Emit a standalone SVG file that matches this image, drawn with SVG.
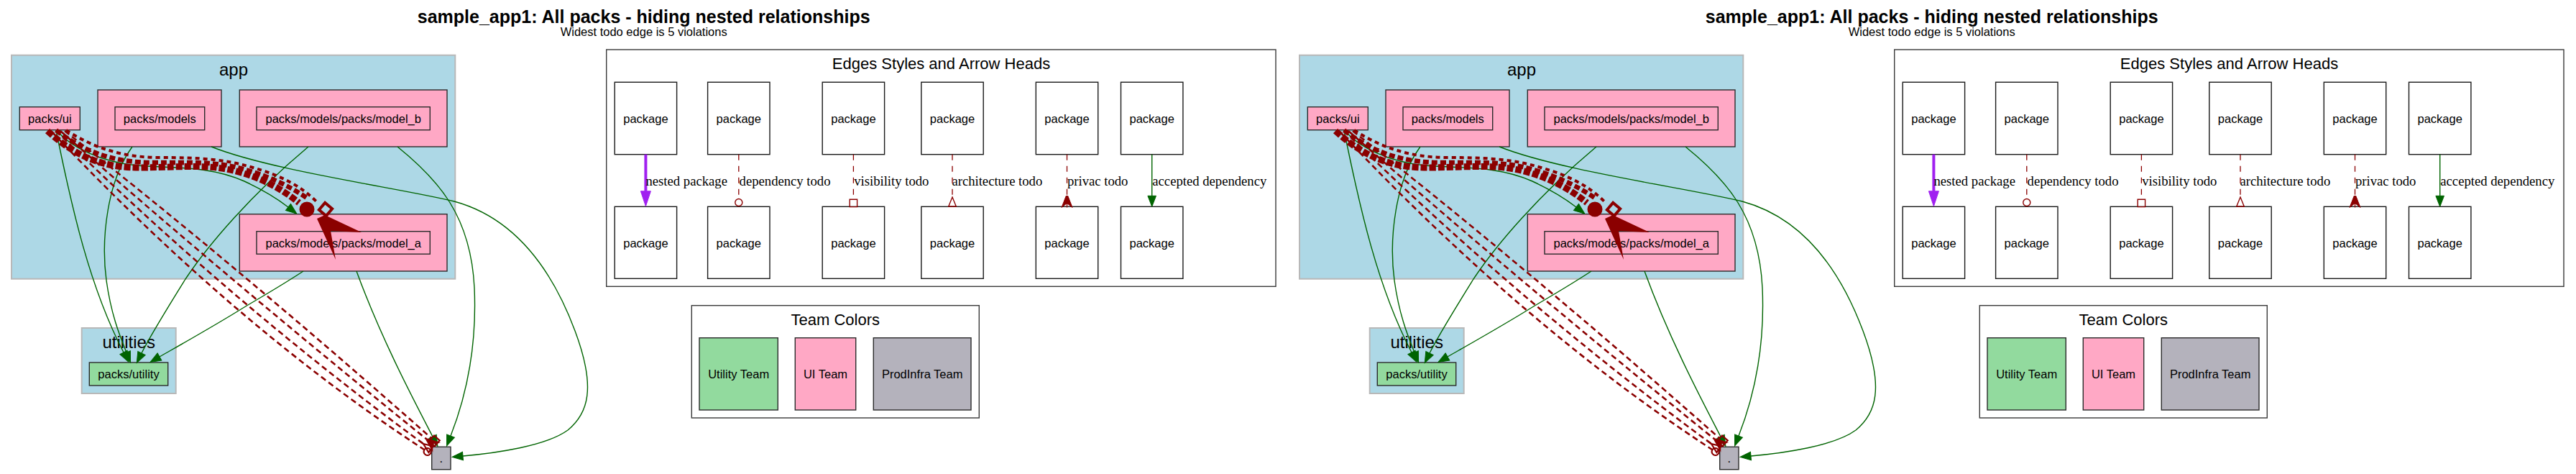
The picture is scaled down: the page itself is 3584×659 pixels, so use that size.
<svg xmlns="http://www.w3.org/2000/svg" width="3584" height="659" viewBox="0 0 3584 659">
<style>
.cl{fill:#ADD8E6;stroke:#B8B8B8;stroke-width:2}
.pk{fill:#FFA8C5;stroke:#2b2b2b;stroke-width:1.4}
.gn{fill:#92DA9E;stroke:#2b2b2b;stroke-width:1.4}
.gy{fill:#B4B2BC;stroke:#2b2b2b;stroke-width:1.4}
.lg{fill:#fff;stroke:#3a3a3a;stroke-width:1.4}
.wb{fill:#fff;stroke:#1a1a1a;stroke-width:1.4}
text{font-family:"Liberation Sans",Arial,Helvetica,sans-serif;fill:#000}
.t{font-size:16.5px;text-anchor:middle}
.ct{font-size:24px;text-anchor:middle}
.lt{font-size:22px;text-anchor:middle}
.ti{font-size:25px;font-weight:bold;text-anchor:middle}
.st{font-size:16.5px;text-anchor:middle}
.el{font-family:"Liberation Serif","Times New Roman",serif;font-size:18.67px}
.g{fill:none;stroke:#006400;stroke-width:1.4;marker-end:url(#mg)}
.td{fill:none;stroke:#8B0000;stroke-width:2.6;stroke-dasharray:8 5}
.ld{fill:none;stroke:#8B0000;stroke-width:1.3;stroke-dasharray:8 8}
.tk{fill:none;stroke:#8B0000}
</style>
<defs>
<marker id="mg" markerUnits="userSpaceOnUse" orient="auto" refX="0" refY="0" markerWidth="20" markerHeight="20" overflow="visible"><path d="M0,-5.8L15,0L0,5.8Z" fill="#006400" stroke="#006400" stroke-width="1"/></marker>
<marker id="mp" markerUnits="userSpaceOnUse" orient="auto" refX="0" refY="0" markerWidth="24" markerHeight="20" overflow="visible"><path d="M0,-7L21,0L0,7Z" fill="#A020F0" stroke="#A020F0" stroke-width="1"/></marker>
<marker id="modot" markerUnits="userSpaceOnUse" orient="auto" refX="0" refY="0" markerWidth="14" markerHeight="14" overflow="visible"><circle cx="5.5" cy="0" r="5" fill="none" stroke="#8B0000" stroke-width="1.4"/></marker>
<marker id="mobox" markerUnits="userSpaceOnUse" orient="auto" refX="0" refY="0" markerWidth="14" markerHeight="14" overflow="visible"><rect x="0.7" y="-5.2" width="10.4" height="10.4" fill="none" stroke="#8B0000" stroke-width="1.4"/></marker>
<marker id="moinv" markerUnits="userSpaceOnUse" orient="auto" refX="0" refY="0" markerWidth="16" markerHeight="14" overflow="visible"><path d="M0,0L13,-5.3L13,5.3Z" fill="none" stroke="#8B0000" stroke-width="1.4"/></marker>
<marker id="mcrow" markerUnits="userSpaceOnUse" orient="auto" refX="0" refY="0" markerWidth="18" markerHeight="18" overflow="visible"><path d="M0,-1.3L16,-7.5L10,0L16,7.5L0,1.3Z" fill="#8B0000" stroke="#8B0000" stroke-width="1"/><path d="M0,0H16" stroke="#8B0000" stroke-width="1.3"/></marker>
<marker id="modot2" markerUnits="userSpaceOnUse" orient="auto" refX="0" refY="0" markerWidth="14" markerHeight="14" overflow="visible"><circle cx="5.5" cy="0" r="5" fill="none" stroke="#8B0000" stroke-width="2.2"/></marker>
<marker id="mobox2" markerUnits="userSpaceOnUse" orient="auto" refX="0" refY="0" markerWidth="14" markerHeight="14" overflow="visible"><rect x="0.7" y="-5.2" width="10.4" height="10.4" fill="none" stroke="#8B0000" stroke-width="2.2"/></marker>
<marker id="moinv2" markerUnits="userSpaceOnUse" orient="auto" refX="0" refY="0" markerWidth="16" markerHeight="14" overflow="visible"><path d="M0,0L13,-5.3L13,5.3Z" fill="none" stroke="#8B0000" stroke-width="2.2"/></marker>
<marker id="mcrow2" markerUnits="userSpaceOnUse" orient="auto" refX="0" refY="0" markerWidth="18" markerHeight="18" overflow="visible"><path d="M0,-1.3L16,-7.5L10,0L16,7.5L0,1.3Z" fill="#8B0000" stroke="#8B0000" stroke-width="1"/></marker>
</defs>
<rect x="0" y="0" width="3584" height="659" fill="#fff"/>

<g id="half-1">
<text class="ti" x="895.7" y="32">sample_app1: All packs - hiding nested relationships</text>
<text class="st" x="895.7" y="50">Widest todo edge is 5 violations</text>

<g id="cluster-app-1"><rect class="cl" x="16" y="76.7" width="617.3" height="311"/><text class="ct" x="325" y="105">app</text></g>
<g id="cluster-models-1"><rect class="pk" x="136" y="125" width="172" height="79"/></g>
<g id="cluster-model-b-1"><rect class="pk" x="333.3" y="125" width="288.7" height="79"/></g>
<g id="cluster-model-a-1"><rect class="pk" x="333.3" y="297.7" width="288.7" height="79.3"/></g>
<g id="cluster-utilities-1"><rect class="cl" x="113.7" y="456" width="131" height="91"/><text class="ct" x="179.2" y="484">utilities</text></g>

<g id="node-ui-1"><rect class="pk" x="27.3" y="148.7" width="84" height="32"/><text class="t" x="69.3" y="170.7">packs/ui</text></g>
<g id="node-models-1"><rect class="pk" x="160" y="148.7" width="124.7" height="32"/><text class="t" x="222.3" y="170.7">packs/models</text></g>
<g id="node-model-b-1"><rect class="pk" x="357" y="148.7" width="241.3" height="32"/><text class="t" x="477.7" y="170.7">packs/models/packs/model_b</text></g>
<g id="node-model-a-1"><rect class="pk" x="357" y="321.7" width="241.3" height="31.5"/><text class="t" x="477.7" y="343.5">packs/models/packs/model_a</text></g>
<g id="node-utility-1"><rect class="gn" x="124.3" y="504" width="109.4" height="32"/><text class="t" x="179" y="526">packs/utility</text></g>
<g id="node-root-1"><rect class="gy" x="600.7" y="621.3" width="26.3" height="31.4"/><text class="t" x="613.9" y="643">.</text></g>

<g id="connectors-1">
<path class="g" d="M78,181 C100,290 125,400 172,490"/>
<path class="g" d="M184,204 C150,250 140,330 148,390 C155,440 168,470 176,490"/>
<path class="g" d="M429,204 C350,270 290,340 258,388 C235,425 210,465 197,491"/>
<path class="g" d="M422,377 C390,398 360,415 340,427 C300,452 250,480 222,496"/>
<path class="g" d="M80,183 C100,205 140,225 190,230 C240,234 290,230 340,252 C368,265 388,278 401,288"/>
<path class="g" d="M294,204 C380,238 560,262 632,280 C720,304 770,380 800,460 C830,540 818,575 790,598 C760,620 690,630 644,634"/>
<path class="g" d="M553,204 C610,250 655,300 660,400 C664,490 645,560 627,606"/>
<path class="g" d="M496,377 C530,470 575,555 602,607"/>
<path class="td" d="M72,183 Q329,455 590,625" marker-end="url(#modot2)"/>
<path class="td" d="M78,182 Q327,425 589,617" marker-end="url(#moinv2)"/>
<path class="td" d="M84,182 Q326,395 594,611" marker-end="url(#mcrow2)"/>
<path class="td" d="M90,182 Q324,365 600,609" marker-end="url(#mobox2)"/>
<path class="tk" stroke-width="9" stroke-dasharray="9 3" d="M66,182 C110,222 150,234 200,233 C260,232 292,228 332,239 C366,248 394,264 416,282"/>
<path class="tk" stroke-width="6.5" stroke-dasharray="8 4" d="M78,181 C118,212 160,226 212,226 C266,226 302,224 342,236 C380,247 408,262 428,276"/>
<path class="tk" stroke-width="4" stroke-dasharray="6 5" d="M92,181 C128,204 168,219 222,219 C276,219 312,221 352,233 C390,244 418,258 440,280"/>
<circle cx="427" cy="291" r="10.5" fill="#8B0000"/>
<rect x="446.5" y="284.5" width="13" height="13" transform="rotate(40 453 291)" fill="none" stroke="#8B0000" stroke-width="4"/>
<polygon points="441,304 467,361 460,321 503,323 452,299" fill="#8B0000"/>
</g>

<g id="legend-edges-1">
<rect class="lg" x="843.7" y="69" width="931.3" height="329.3"/>
<text class="lt" x="1309.5" y="96">Edges Styles and Arrow Heads</text>
<g id="leg-a1-1"><rect class="wb" x="855.2" y="114.3" width="86.4" height="100.4"/><text class="t" x="898.4" y="170.5">package</text></g>
<g id="leg-a2-1"><rect class="wb" x="855.2" y="287.3" width="86.4" height="100"/><text class="t" x="898.4" y="343.5">package</text></g>
<g id="leg-b1-1"><rect class="wb" x="984.6" y="114.3" width="86.4" height="100.4"/><text class="t" x="1027.8" y="170.5">package</text></g>
<g id="leg-b2-1"><rect class="wb" x="984.6" y="287.3" width="86.4" height="100"/><text class="t" x="1027.8" y="343.5">package</text></g>
<g id="leg-c1-1"><rect class="wb" x="1144.2" y="114.3" width="86.4" height="100.4"/><text class="t" x="1187.4" y="170.5">package</text></g>
<g id="leg-c2-1"><rect class="wb" x="1144.2" y="287.3" width="86.4" height="100"/><text class="t" x="1187.4" y="343.5">package</text></g>
<g id="leg-d1-1"><rect class="wb" x="1281.8" y="114.3" width="86.4" height="100.4"/><text class="t" x="1325" y="170.5">package</text></g>
<g id="leg-d2-1"><rect class="wb" x="1281.8" y="287.3" width="86.4" height="100"/><text class="t" x="1325" y="343.5">package</text></g>
<g id="leg-e1-1"><rect class="wb" x="1441.3" y="114.3" width="86.4" height="100.4"/><text class="t" x="1484.5" y="170.5">package</text></g>
<g id="leg-e2-1"><rect class="wb" x="1441.3" y="287.3" width="86.4" height="100"/><text class="t" x="1484.5" y="343.5">package</text></g>
<g id="leg-f1-1"><rect class="wb" x="1559.5" y="114.3" width="86.4" height="100.4"/><text class="t" x="1602.7" y="170.5">package</text></g>
<g id="leg-f2-1"><rect class="wb" x="1559.5" y="287.3" width="86.4" height="100"/><text class="t" x="1602.7" y="343.5">package</text></g>
<g id="legend-connectors-1">
<path d="M898.4,214.7V265.8" fill="none" stroke="#A020F0" stroke-width="4" marker-end="url(#mp)"/>
<path class="ld" d="M1027.8,214.7V276" marker-end="url(#modot)"/>
<path class="ld" d="M1187.4,214.7V276.5" marker-end="url(#mobox)"/>
<path class="ld" d="M1325,214.7V274" marker-end="url(#moinv)"/>
<path class="ld" d="M1484.5,214.7V272.5" marker-end="url(#mcrow)"/>
<path d="M1602.7,214.7V272.3" fill="none" stroke="#006400" stroke-width="1.4" marker-end="url(#mg)"/>
<text class="el" x="898.5" y="258">nested package</text>
<text class="el" x="1028.6" y="258">dependency todo</text>
<text class="el" x="1188.2" y="258">visibility todo</text>
<text class="el" x="1324.4" y="258">architecture todo</text>
<text class="el" x="1485" y="258">privac todo</text>
<text class="el" x="1603.3" y="258">accepted dependency</text>
</g>
</g>

<g id="legend-teams-1">
<rect class="lg" x="962.3" y="424.7" width="400" height="156.3"/>
<text class="lt" x="1162.3" y="451.7">Team Colors</text>
<g id="team-utility-1"><rect class="gn" x="973" y="469.7" width="109.3" height="100.3"/><text class="t" x="1027.7" y="526">Utility Team</text></g>
<g id="team-ui-1"><rect class="pk" x="1106.3" y="469.7" width="84.4" height="100.3"/><text class="t" x="1148.5" y="526">UI Team</text></g>
<g id="team-prodinfra-1"><rect class="gy" x="1215.3" y="469.7" width="135.7" height="100.3"/><text class="t" x="1283.2" y="526">ProdInfra Team</text></g>
</g>
</g>

<g id="half-2" transform="translate(1792,0)">
<text class="ti" x="895.7" y="32">sample_app1: All packs - hiding nested relationships</text>
<text class="st" x="895.7" y="50">Widest todo edge is 5 violations</text>

<g id="cluster-app-2"><rect class="cl" x="16" y="76.7" width="617.3" height="311"/><text class="ct" x="325" y="105">app</text></g>
<g id="cluster-models-2"><rect class="pk" x="136" y="125" width="172" height="79"/></g>
<g id="cluster-model-b-2"><rect class="pk" x="333.3" y="125" width="288.7" height="79"/></g>
<g id="cluster-model-a-2"><rect class="pk" x="333.3" y="297.7" width="288.7" height="79.3"/></g>
<g id="cluster-utilities-2"><rect class="cl" x="113.7" y="456" width="131" height="91"/><text class="ct" x="179.2" y="484">utilities</text></g>

<g id="node-ui-2"><rect class="pk" x="27.3" y="148.7" width="84" height="32"/><text class="t" x="69.3" y="170.7">packs/ui</text></g>
<g id="node-models-2"><rect class="pk" x="160" y="148.7" width="124.7" height="32"/><text class="t" x="222.3" y="170.7">packs/models</text></g>
<g id="node-model-b-2"><rect class="pk" x="357" y="148.7" width="241.3" height="32"/><text class="t" x="477.7" y="170.7">packs/models/packs/model_b</text></g>
<g id="node-model-a-2"><rect class="pk" x="357" y="321.7" width="241.3" height="31.5"/><text class="t" x="477.7" y="343.5">packs/models/packs/model_a</text></g>
<g id="node-utility-2"><rect class="gn" x="124.3" y="504" width="109.4" height="32"/><text class="t" x="179" y="526">packs/utility</text></g>
<g id="node-root-2"><rect class="gy" x="600.7" y="621.3" width="26.3" height="31.4"/><text class="t" x="613.9" y="643">.</text></g>

<g id="connectors-2">
<path class="g" d="M78,181 C100,290 125,400 172,490"/>
<path class="g" d="M184,204 C150,250 140,330 148,390 C155,440 168,470 176,490"/>
<path class="g" d="M429,204 C350,270 290,340 258,388 C235,425 210,465 197,491"/>
<path class="g" d="M422,377 C390,398 360,415 340,427 C300,452 250,480 222,496"/>
<path class="g" d="M80,183 C100,205 140,225 190,230 C240,234 290,230 340,252 C368,265 388,278 401,288"/>
<path class="g" d="M294,204 C380,238 560,262 632,280 C720,304 770,380 800,460 C830,540 818,575 790,598 C760,620 690,630 644,634"/>
<path class="g" d="M553,204 C610,250 655,300 660,400 C664,490 645,560 627,606"/>
<path class="g" d="M496,377 C530,470 575,555 602,607"/>
<path class="td" d="M72,183 Q329,455 590,625" marker-end="url(#modot2)"/>
<path class="td" d="M78,182 Q327,425 589,617" marker-end="url(#moinv2)"/>
<path class="td" d="M84,182 Q326,395 594,611" marker-end="url(#mcrow2)"/>
<path class="td" d="M90,182 Q324,365 600,609" marker-end="url(#mobox2)"/>
<path class="tk" stroke-width="9" stroke-dasharray="9 3" d="M66,182 C110,222 150,234 200,233 C260,232 292,228 332,239 C366,248 394,264 416,282"/>
<path class="tk" stroke-width="6.5" stroke-dasharray="8 4" d="M78,181 C118,212 160,226 212,226 C266,226 302,224 342,236 C380,247 408,262 428,276"/>
<path class="tk" stroke-width="4" stroke-dasharray="6 5" d="M92,181 C128,204 168,219 222,219 C276,219 312,221 352,233 C390,244 418,258 440,280"/>
<circle cx="427" cy="291" r="10.5" fill="#8B0000"/>
<rect x="446.5" y="284.5" width="13" height="13" transform="rotate(40 453 291)" fill="none" stroke="#8B0000" stroke-width="4"/>
<polygon points="441,304 467,361 460,321 503,323 452,299" fill="#8B0000"/>
</g>

<g id="legend-edges-2">
<rect class="lg" x="843.7" y="69" width="931.3" height="329.3"/>
<text class="lt" x="1309.5" y="96">Edges Styles and Arrow Heads</text>
<g id="leg-a1-2"><rect class="wb" x="855.2" y="114.3" width="86.4" height="100.4"/><text class="t" x="898.4" y="170.5">package</text></g>
<g id="leg-a2-2"><rect class="wb" x="855.2" y="287.3" width="86.4" height="100"/><text class="t" x="898.4" y="343.5">package</text></g>
<g id="leg-b1-2"><rect class="wb" x="984.6" y="114.3" width="86.4" height="100.4"/><text class="t" x="1027.8" y="170.5">package</text></g>
<g id="leg-b2-2"><rect class="wb" x="984.6" y="287.3" width="86.4" height="100"/><text class="t" x="1027.8" y="343.5">package</text></g>
<g id="leg-c1-2"><rect class="wb" x="1144.2" y="114.3" width="86.4" height="100.4"/><text class="t" x="1187.4" y="170.5">package</text></g>
<g id="leg-c2-2"><rect class="wb" x="1144.2" y="287.3" width="86.4" height="100"/><text class="t" x="1187.4" y="343.5">package</text></g>
<g id="leg-d1-2"><rect class="wb" x="1281.8" y="114.3" width="86.4" height="100.4"/><text class="t" x="1325" y="170.5">package</text></g>
<g id="leg-d2-2"><rect class="wb" x="1281.8" y="287.3" width="86.4" height="100"/><text class="t" x="1325" y="343.5">package</text></g>
<g id="leg-e1-2"><rect class="wb" x="1441.3" y="114.3" width="86.4" height="100.4"/><text class="t" x="1484.5" y="170.5">package</text></g>
<g id="leg-e2-2"><rect class="wb" x="1441.3" y="287.3" width="86.4" height="100"/><text class="t" x="1484.5" y="343.5">package</text></g>
<g id="leg-f1-2"><rect class="wb" x="1559.5" y="114.3" width="86.4" height="100.4"/><text class="t" x="1602.7" y="170.5">package</text></g>
<g id="leg-f2-2"><rect class="wb" x="1559.5" y="287.3" width="86.4" height="100"/><text class="t" x="1602.7" y="343.5">package</text></g>
<g id="legend-connectors-2">
<path d="M898.4,214.7V265.8" fill="none" stroke="#A020F0" stroke-width="4" marker-end="url(#mp)"/>
<path class="ld" d="M1027.8,214.7V276" marker-end="url(#modot)"/>
<path class="ld" d="M1187.4,214.7V276.5" marker-end="url(#mobox)"/>
<path class="ld" d="M1325,214.7V274" marker-end="url(#moinv)"/>
<path class="ld" d="M1484.5,214.7V272.5" marker-end="url(#mcrow)"/>
<path d="M1602.7,214.7V272.3" fill="none" stroke="#006400" stroke-width="1.4" marker-end="url(#mg)"/>
<text class="el" x="898.5" y="258">nested package</text>
<text class="el" x="1028.6" y="258">dependency todo</text>
<text class="el" x="1188.2" y="258">visibility todo</text>
<text class="el" x="1324.4" y="258">architecture todo</text>
<text class="el" x="1485" y="258">privac todo</text>
<text class="el" x="1603.3" y="258">accepted dependency</text>
</g>
</g>

<g id="legend-teams-2">
<rect class="lg" x="962.3" y="424.7" width="400" height="156.3"/>
<text class="lt" x="1162.3" y="451.7">Team Colors</text>
<g id="team-utility-2"><rect class="gn" x="973" y="469.7" width="109.3" height="100.3"/><text class="t" x="1027.7" y="526">Utility Team</text></g>
<g id="team-ui-2"><rect class="pk" x="1106.3" y="469.7" width="84.4" height="100.3"/><text class="t" x="1148.5" y="526">UI Team</text></g>
<g id="team-prodinfra-2"><rect class="gy" x="1215.3" y="469.7" width="135.7" height="100.3"/><text class="t" x="1283.2" y="526">ProdInfra Team</text></g>
</g>
</g>
</svg>
